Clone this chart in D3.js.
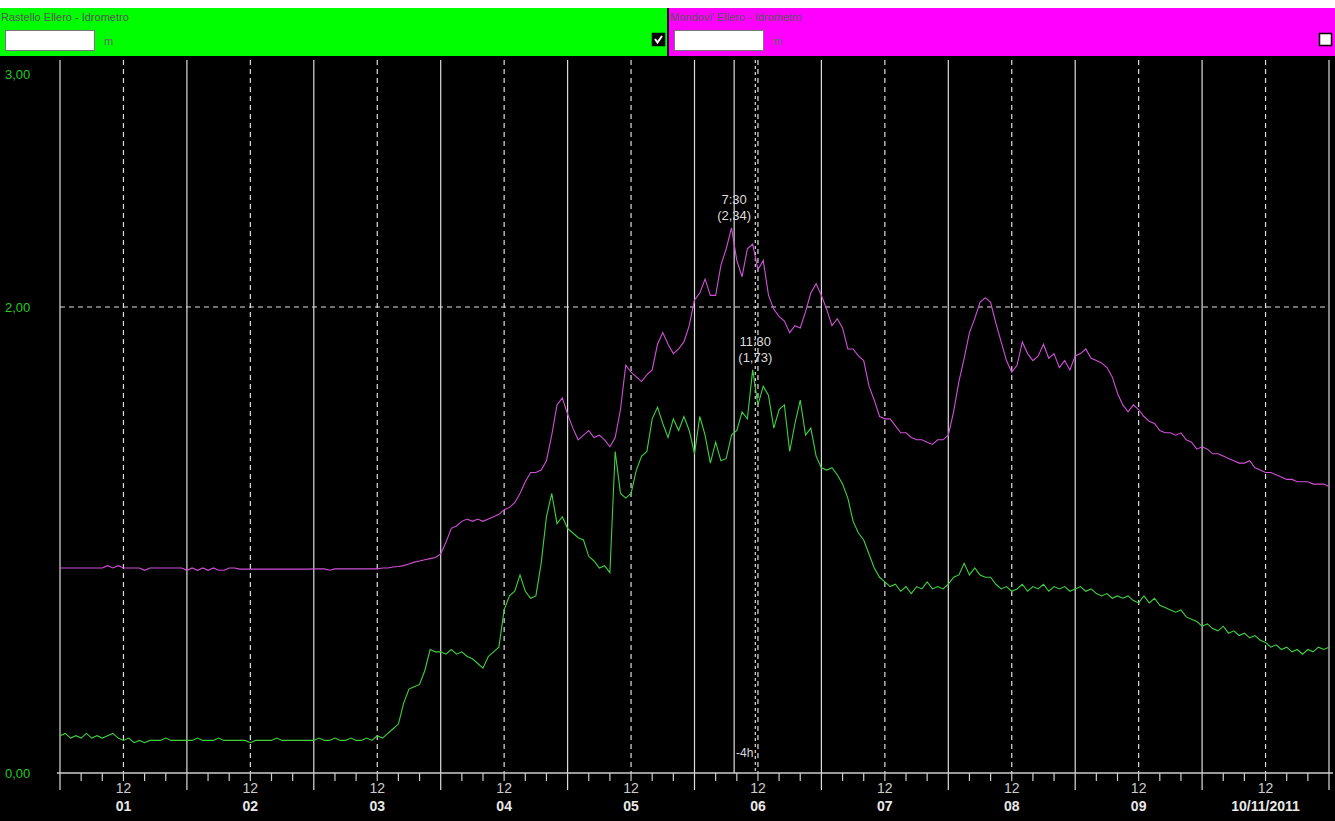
<!DOCTYPE html>
<html><head><meta charset="utf-8">
<script src="https://cdn.jsdelivr.net/npm/d3@7"></script>
<style>
html,body{margin:0;padding:0;background:#fff;overflow:hidden}
svg{display:block}
text{font-family:"Liberation Sans",Arial,sans-serif}
</style></head>
<body>
<script>
// hourly samples, from 01 00:00 to 10 24:00 (hour 0..240)
const magenta = [
0.88,0.88,0.88,0.88,0.88,0.88,0.88,0.88,0.88,0.89,0.88,0.89,0.88,0.88,0.88,0.88,0.87,0.88,0.88,0.88,0.88,0.88,0.88,0.88,
0.87,0.88,0.87,0.88,0.87,0.88,0.87,0.87,0.88,0.88,0.875,0.875,0.875,0.875,0.875,0.875,0.875,0.875,0.875,0.875,0.875,0.875,0.875,0.875,
0.876,0.876,0.876,0.87,0.876,0.876,0.876,0.876,0.876,0.876,0.876,0.876,0.876,0.88,0.88,0.884,0.886,0.89,0.897,0.905,0.91,0.915,0.92,0.925,
0.94,0.99,1.05,1.06,1.08,1.09,1.08,1.09,1.08,1.09,1.10,1.11,1.13,1.14,1.16,1.20,1.25,1.29,1.29,1.30,1.34,1.45,1.58,1.61,
1.54,1.48,1.43,1.45,1.47,1.44,1.45,1.43,1.40,1.44,1.56,1.75,1.72,1.70,1.68,1.71,1.73,1.84,1.89,1.84,1.80,1.82,1.85,1.92,
2.03,2.06,2.12,2.05,2.05,2.18,2.25,2.34,2.20,2.13,2.25,2.27,2.16,2.20,2.05,1.99,1.96,1.94,1.89,1.92,1.91,1.98,2.06,2.10,
2.05,1.99,1.92,1.95,1.91,1.82,1.82,1.79,1.77,1.66,1.60,1.53,1.52,1.52,1.49,1.46,1.46,1.44,1.43,1.43,1.42,1.41,1.43,1.43,
1.45,1.55,1.68,1.78,1.89,1.95,2.02,2.04,2.02,1.93,1.85,1.77,1.72,1.75,1.85,1.80,1.77,1.79,1.84,1.78,1.80,1.74,1.77,1.73,
1.79,1.80,1.82,1.78,1.77,1.76,1.74,1.70,1.63,1.58,1.55,1.58,1.56,1.53,1.51,1.50,1.47,1.46,1.46,1.45,1.46,1.43,1.42,1.39,
1.40,1.39,1.37,1.37,1.36,1.35,1.34,1.33,1.33,1.34,1.31,1.30,1.29,1.29,1.28,1.27,1.26,1.26,1.25,1.25,1.25,1.24,1.24,1.24,1.23
];
const green = [
0.16,0.17,0.15,0.16,0.15,0.17,0.15,0.16,0.15,0.16,0.17,0.15,0.14,0.15,0.13,0.14,0.13,0.14,0.14,0.14,0.15,0.14,0.14,0.14,
0.14,0.14,0.15,0.14,0.14,0.14,0.15,0.14,0.14,0.14,0.14,0.14,0.13,0.14,0.14,0.14,0.14,0.15,0.14,0.14,0.14,0.14,0.14,0.14,
0.14,0.15,0.14,0.14,0.15,0.14,0.14,0.15,0.14,0.14,0.15,0.14,0.16,0.15,0.17,0.19,0.21,0.30,0.36,0.37,0.38,0.44,0.53,0.52,
0.52,0.51,0.53,0.51,0.52,0.50,0.49,0.47,0.45,0.50,0.52,0.54,0.70,0.76,0.78,0.85,0.78,0.75,0.76,0.90,1.10,1.20,1.07,1.10,
1.05,1.03,1.01,1.00,0.93,0.91,0.88,0.89,0.86,1.38,1.20,1.18,1.20,1.30,1.36,1.38,1.52,1.57,1.50,1.44,1.52,1.47,1.53,1.47,
1.37,1.53,1.45,1.33,1.42,1.34,1.35,1.45,1.47,1.55,1.52,1.73,1.58,1.66,1.62,1.48,1.56,1.58,1.38,1.50,1.60,1.45,1.48,1.36,
1.31,1.30,1.31,1.28,1.24,1.18,1.08,1.03,1.00,0.94,0.88,0.84,0.82,0.80,0.81,0.78,0.80,0.77,0.80,0.79,0.82,0.79,0.80,0.79,
0.81,0.84,0.85,0.90,0.85,0.88,0.85,0.84,0.84,0.81,0.79,0.80,0.78,0.79,0.81,0.78,0.80,0.79,0.81,0.78,0.80,0.79,0.80,0.78,
0.79,0.80,0.78,0.79,0.77,0.76,0.77,0.75,0.76,0.75,0.76,0.74,0.73,0.76,0.73,0.75,0.72,0.71,0.70,0.69,0.70,0.67,0.66,0.65,
0.63,0.64,0.62,0.61,0.63,0.60,0.61,0.59,0.60,0.58,0.59,0.57,0.56,0.54,0.55,0.53,0.54,0.52,0.53,0.51,0.53,0.52,0.54,0.53,0.54
];
const dayLabels = ["01","02","03","04","05","06","07","08","09","10/11/2011"];
const yTicks = [0, 2, 3];
const yTickLabels = ["0,00","2,00","3,00"];
const seriesNames = ["Rastello Ellero - Idrometro","Mondovi' Ellero - Idrometro"];
const cursors = [{h:127.5, t:"7:30", v:"(2,34)", val:2.34}, {h:131.5, t:"11:30", v:"(1,73)", val:1.73}];

(function(){
const W = 1335, H = 821;
const svg = d3.select("body").append("svg").attr("width", W).attr("height", H);
svg.append("rect").attr("width", W).attr("height", H).attr("fill", "#fff");
svg.append("rect").attr("y", 56).attr("width", W).attr("height", H - 56).attr("fill", "#000");

// header
const hdr = [{x0:0, x1:667, col:"#00ff00", chk:true}, {x0:669, x1:1335, col:"#ff00ff", chk:false}];
svg.append("rect").attr("x",0).attr("y",8).attr("width",W).attr("height",48).attr("fill","#111");
hdr.forEach((h,i)=>{
  svg.append("rect").attr("x",h.x0).attr("y",8).attr("width",h.x1-h.x0).attr("height",48).attr("fill",h.col);
  svg.append("text").attr("x",h.x0+1).attr("y",21).attr("font-size",11).attr("fill","#555").text(seriesNames[i]);
  svg.append("rect").attr("x",h.x0+5.5).attr("y",30.5).attr("width",89).attr("height",20).attr("fill","#fff").attr("stroke","#777");
  svg.append("text").attr("x",h.x0+104).attr("y",45).attr("font-size",11).attr("fill","#666").text("m");
  const cx = i===0 ? 652 : 1319;
  svg.append("rect").attr("x",cx+0.5).attr("y",33.5).attr("width",12).attr("height",12)
     .attr("fill", h.chk ? "#000" : "#fff").attr("stroke","#000").attr("stroke-width",1.5);
  if (h.chk) svg.append("path").attr("d",`M${cx+3},${39} L${cx+5.5},${42.5} L${cx+10},${36}`)
     .attr("stroke","#fff").attr("stroke-width",2).attr("fill","none");
});

const x = d3.scaleLinear().domain([0, 240]).range([60, 1329]);
const y = d3.scaleLinear().domain([0, 3]).range([773, 74]);
const plotTop = 60, plotBottom = 773;

// vertical day lines & noon dashed lines
for (let d = 0; d <= 10; d++) {
  svg.append("line").attr("x1",x(d*24)).attr("x2",x(d*24)).attr("y1",plotTop).attr("y2",plotBottom+17)
     .attr("stroke","#ddd").attr("stroke-width",1.2);
  if (d < 10) svg.append("line").attr("x1",x(d*24+12)).attr("x2",x(d*24+12)).attr("y1",plotTop).attr("y2",plotBottom)
     .attr("stroke","#ddd").attr("stroke-width",1.2).attr("stroke-dasharray","5,4");
}
// horizontal dashed at 2.00
svg.append("line").attr("x1",60).attr("x2",1329).attr("y1",y(2)).attr("y2",y(2))
   .attr("stroke","#ddd").attr("stroke-width",1.2).attr("stroke-dasharray","5,4");

// axis line and ticks
svg.append("line").attr("x1",57).attr("x2",1333).attr("y1",plotBottom).attr("y2",plotBottom).attr("stroke","#ccc").attr("stroke-width",1.5);
d3.range(0, 241, 4).forEach(hh=>{
  if (hh % 24 !== 0) svg.append("line").attr("x1",x(hh)).attr("x2",x(hh)).attr("y1",plotBottom).attr("y2",plotBottom+8).attr("stroke","#ccc").attr("stroke-width",1.2);
});
dayLabels.forEach((lab,d)=>{
  svg.append("text").attr("x",x(d*24+12)).attr("y",793).attr("text-anchor","middle").attr("font-size",14).attr("fill","#ccc").text("12");
  svg.append("text").attr("x",x(d*24+12)).attr("y",811).attr("text-anchor","middle").attr("font-size",14).attr("font-weight","bold").attr("fill","#e8e8e8").text(lab);
});
yTicks.forEach((t,i)=>{
  svg.append("text").attr("x",5).attr("y",y(t)+5).attr("font-size",13).attr("fill","#22cc22").text(yTickLabels[i]);
});

// cursor lines
svg.append("line").attr("x1",x(cursors[0].h)).attr("x2",x(cursors[0].h)).attr("y1",plotTop).attr("y2",plotBottom)
   .attr("stroke","#ddd").attr("stroke-width",1.2);
svg.append("line").attr("x1",x(cursors[1].h)).attr("x2",x(cursors[1].h)).attr("y1",plotTop).attr("y2",plotBottom)
   .attr("stroke","#ddd").attr("stroke-width",1.2).attr("stroke-dasharray","3,3");

// series lines
const line = d3.line().x((d,i)=>x(i)).y(d=>y(d));
svg.append("path").datum(magenta).attr("d",line).attr("fill","none").attr("stroke","#d050d8").attr("stroke-width",1.1);
svg.append("path").datum(green).attr("d",line).attr("fill","none").attr("stroke","#40d040").attr("stroke-width",1.1);

// cursor labels
cursors.forEach(c=>{
  const yy = y(c.val);
  svg.append("text").attr("x",x(c.h)).attr("y",yy-24).attr("text-anchor","middle").attr("font-size",13).attr("fill","#ddd").text(c.t);
  svg.append("text").attr("x",x(c.h)).attr("y",yy-8).attr("text-anchor","middle").attr("font-size",13).attr("fill","#ddd").text(c.v);
});
svg.append("text").attr("x",(x(cursors[0].h)+x(cursors[1].h))/2).attr("y",757).attr("text-anchor","middle").attr("font-size",12).attr("fill","#ddd").text("-4h");
})();
</script>
</body></html>
